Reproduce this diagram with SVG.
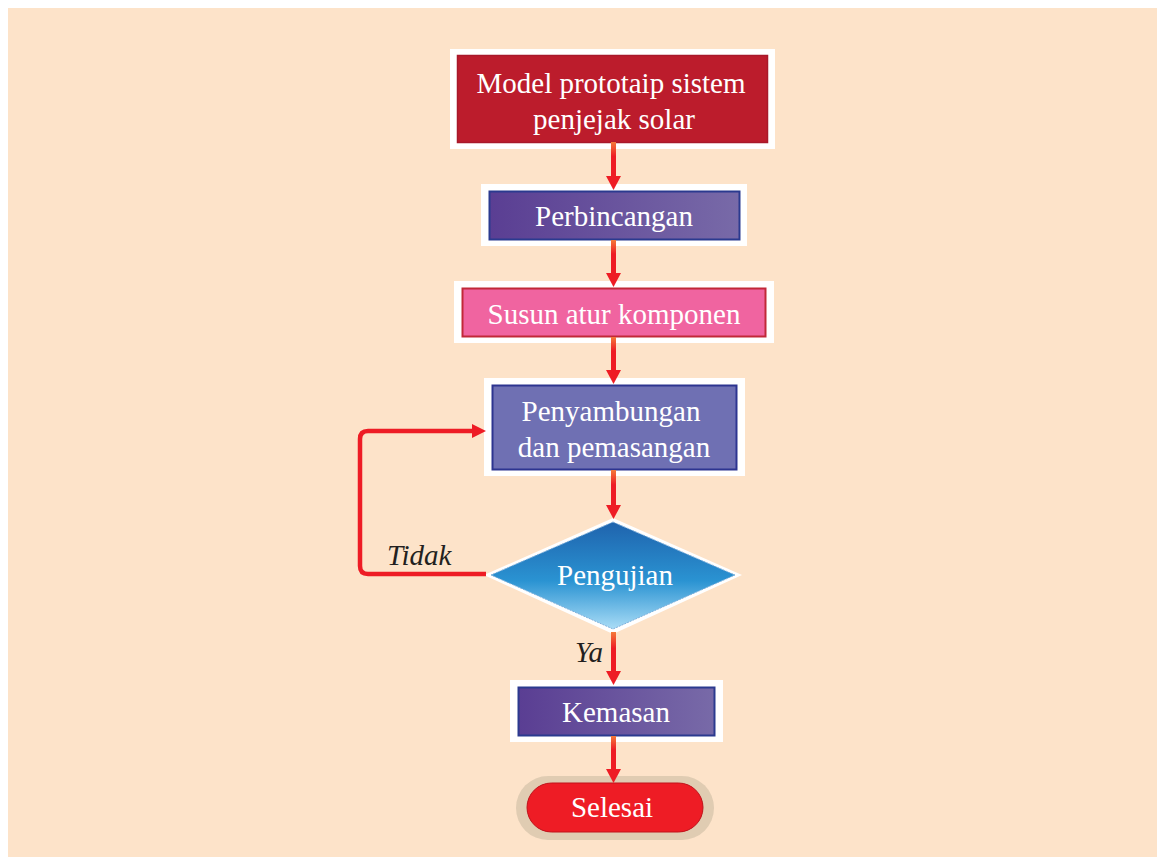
<svg xmlns="http://www.w3.org/2000/svg" width="1157" height="857" viewBox="0 0 1157 857">
<style>
.t{font-family:"Liberation Serif","DejaVu Serif",serif;font-size:29px;fill:#ffffff;text-anchor:middle}
.lbl{font-family:"Liberation Serif","DejaVu Serif",serif;font-size:29px;font-style:italic;fill:#231f20}
.wb{fill:#ffffff}
.ln{fill:none;stroke:#ee1c25;stroke-width:4.5}
.ah{fill:#ee1c25}
</style>
<defs>
<linearGradient id="purp" x1="0" y1="0" x2="1" y2="0">
<stop offset="0" stop-color="#5a3e93"/>
<stop offset="1" stop-color="#786aa8"/>
</linearGradient>
<linearGradient id="dia" x1="0" y1="0" x2="0" y2="1">
<stop offset="0" stop-color="#1f63ad"/>
<stop offset="0.55" stop-color="#2a93d2"/>
<stop offset="1" stop-color="#a9dcf6"/>
</linearGradient>
<linearGradient id="conn" x1="0" y1="0" x2="0" y2="1">
<stop offset="0" stop-color="#f47a3a"/>
<stop offset="0.4" stop-color="#ee1c25"/>
<stop offset="1" stop-color="#ee1c25"/>
</linearGradient>
</defs>
<rect x="0" y="0" width="1157" height="857" fill="#ffffff"/>
<rect x="8" y="8" width="1149" height="849" fill="#fde3c9"/>

<g id="n1">
<rect class="wb" x="450" y="49" width="325" height="100"/>
<rect x="457.5" y="55.5" width="310" height="87" fill="#bc1c2c" stroke="#a8182a" stroke-width="1.5"/>
<text class="t" x="611" y="93">Model prototaip sistem</text>
<text class="t" x="614" y="129">penjejak solar</text>
</g>

<g id="n2">
<rect class="wb" x="481" y="184" width="266" height="62"/>
<rect x="489.5" y="191.5" width="250" height="48" fill="url(#purp)" stroke="#2b3a8f" stroke-width="2"/>
<text class="t" x="614" y="226">Perbincangan</text>
</g>

<g id="n3">
<rect class="wb" x="454" y="281" width="320" height="62"/>
<rect x="462.5" y="288.5" width="303" height="48" fill="#f064a0" stroke="#c12838" stroke-width="2"/>
<text class="t" x="614" y="324">Susun atur komponen</text>
</g>

<g id="n4">
<rect class="wb" x="484" y="378" width="261" height="98"/>
<rect x="492.5" y="385.5" width="244" height="84" fill="#6f70b3" stroke="#2d3490" stroke-width="2"/>
<text class="t" x="611" y="421">Penyambungan</text>
<text class="t" x="614" y="457">dan pemasangan</text>
</g>

<g id="n5">
<polygon points="613,518 742,575 613,634 484,575" fill="#ffffff"/>
<polygon points="613,522 735,575 613,629 491,575" fill="url(#dia)" stroke="#7fb0dc" stroke-width="1" stroke-dasharray="2,1"/>
<text class="t" x="615" y="585">Pengujian</text>
</g>

<g id="n6">
<rect class="wb" x="510" y="680" width="213" height="62"/>
<rect x="518.5" y="687.5" width="196" height="48" fill="url(#purp)" stroke="#2b3a8f" stroke-width="2"/>
<text class="t" x="616" y="722">Kemasan</text>
</g>

<g id="n7">
<rect x="516" y="776" width="198" height="64" rx="32" fill="#d8c5ad" opacity="0.8"/>
<rect x="527" y="783" width="176" height="49" rx="24.5" fill="#ee1c25" stroke="#c0121a" stroke-width="1"/>
<text class="t" x="612" y="817">Selesai</text>
</g>

<g id="connectors">
<rect x="611" y="142" width="5" height="36" fill="url(#conn)"/>
<polygon class="ah" points="606,176 621,176 613.5,190"/>
<rect x="611" y="240" width="5" height="35" fill="url(#conn)"/>
<polygon class="ah" points="606,273 621,273 613.5,287"/>
<rect x="611" y="337" width="5" height="35" fill="url(#conn)"/>
<polygon class="ah" points="606,370 621,370 613.5,384"/>
<rect x="611" y="470" width="5" height="37" fill="url(#conn)"/>
<polygon class="ah" points="606,505 621,505 613.5,519"/>
<rect x="611" y="632" width="5" height="41" fill="url(#conn)"/>
<polygon class="ah" points="606,671 621,671 613.5,685"/>
<rect x="611" y="736" width="5" height="35" fill="url(#conn)"/>
<polygon class="ah" points="606,769 621,769 613.5,783"/>
<path class="ln" d="M486,574 H368 Q360,574 360,566 V439 Q360,431 368,431 H474"/>
<polygon class="ah" points="472,424 486,431 472,438"/>
<text class="lbl" x="387" y="565">Tidak</text>
<text class="lbl" x="575" y="662">Ya</text>
</g>
</svg>
